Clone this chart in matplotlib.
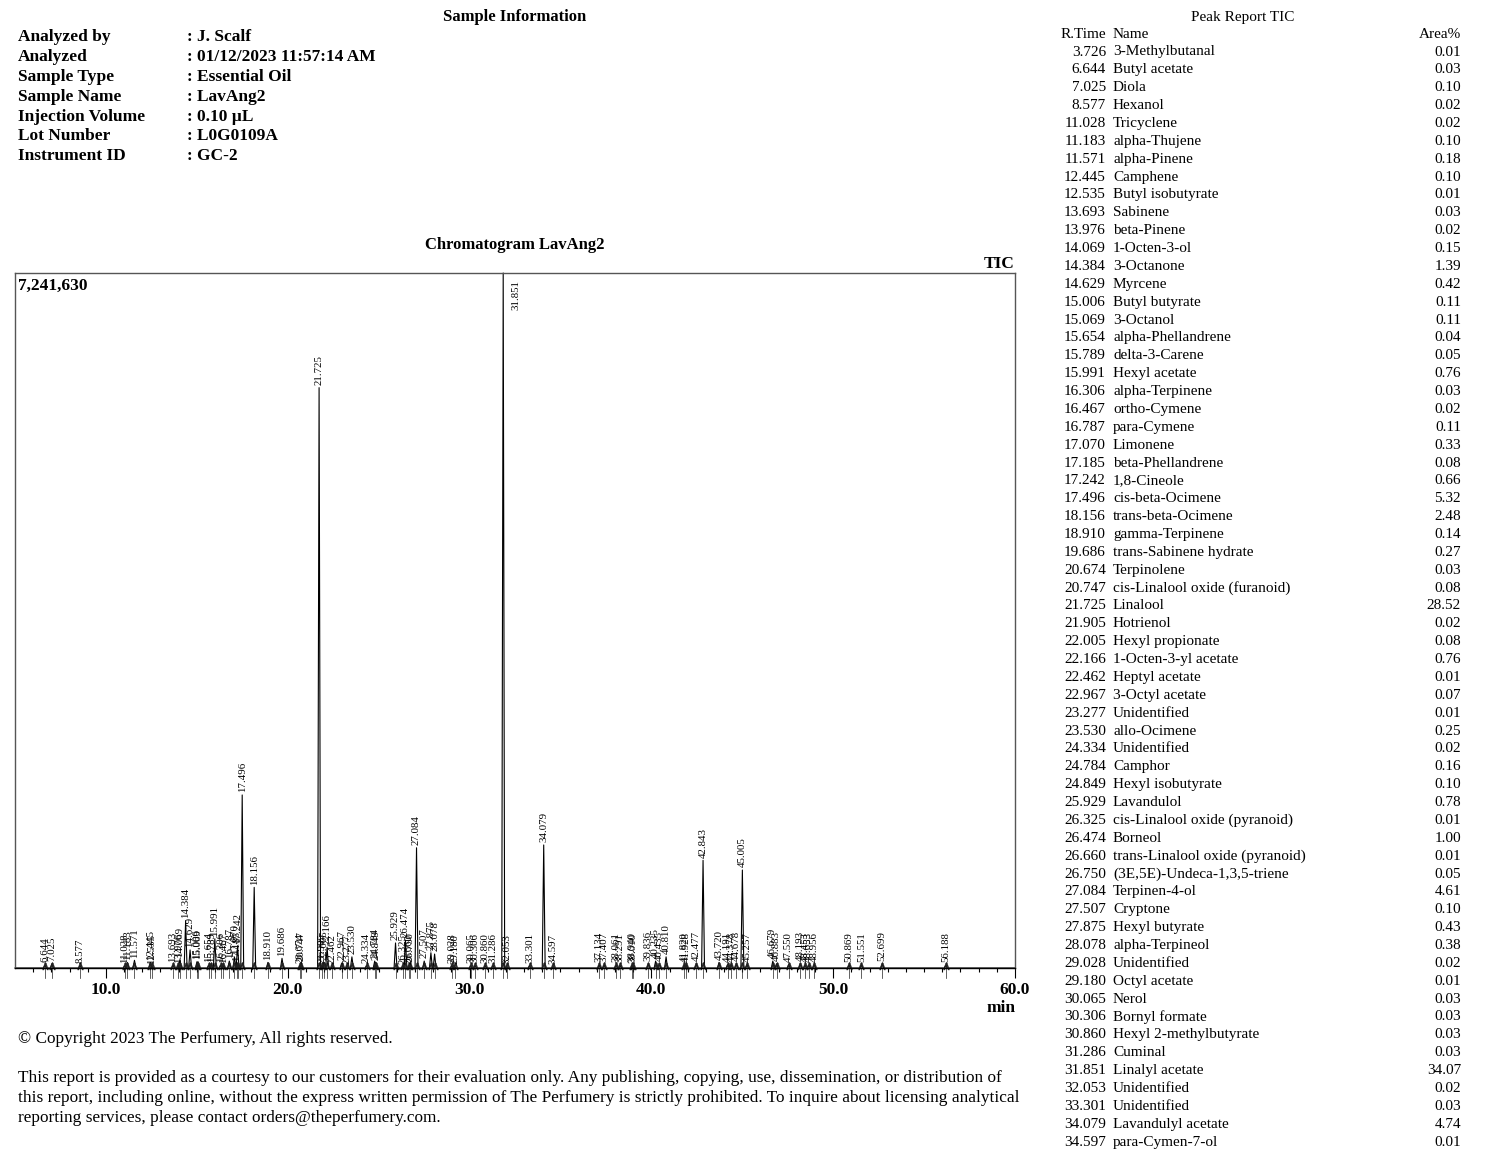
import numpy as np
import matplotlib
matplotlib.use("Agg")
import matplotlib.pyplot as plt
import matplotlib.transforms as mtransforms

plt.rcParams['font.family'] = ['Liberation Serif', 'DejaVu Serif']

# ---- data -------------------------------------------------------------
y_max = 7241630

# retention times (min) of the labelled peaks in the chromatogram
peak_rt = [6.644, 7.025, 8.577, 11.028, 11.183, 11.571, 12.445, 12.535,
           13.693, 13.976, 14.069, 14.384, 14.629, 15.006, 15.069, 15.654,
           15.789, 15.991, 16.306, 16.467, 16.787, 17.070, 17.185, 17.242,
           17.496, 18.156, 18.910, 19.686, 20.674, 20.747, 21.725, 21.905,
           22.005, 22.166, 22.462, 22.967, 23.277, 23.530, 24.334, 24.784,
           24.849, 25.929, 26.325, 26.474, 26.660, 26.750, 27.084, 27.507,
           27.875, 28.078, 29.028, 29.180, 30.065, 30.306, 30.860, 31.286,
           31.851, 32.053, 33.301, 34.079, 34.597, 37.134, 37.407, 38.061,
           38.291, 38.940, 39.010, 39.836, 40.235, 40.435, 40.810, 41.820,
           41.928, 42.477, 42.843, 43.720, 44.191, 44.378, 44.678, 45.005,
           45.257, 46.679, 46.883, 47.550, 48.193, 48.453, 48.653, 48.956,
           50.869, 51.551, 52.699, 56.188]

# peak heights (counts)
peak_height = [29000, 43000, 22000, 22000, 58000, 80000, 58000, 14000,
               29000, 22000, 87000, 492000, 188000, 65000, 65000, 29000,
               36000, 304000, 29000, 22000, 72000, 116000, 43000, 232000,
               1803000, 840000, 58000, 101000, 22000, 43000, 6047000, 22000,
               58000, 217000, 14000, 51000, 14000, 116000, 22000, 72000,
               58000, 261000, 14000, 290000, 14000, 36000, 1253000, 72000,
               159000, 145000, 22000, 14000, 22000, 22000, 22000, 22000,
               7241630, 14000, 22000, 1282000, 14000, 29000, 29000, 29000,
               22000, 29000, 22000, 43000, 72000, 43000, 116000, 29000,
               29000, 43000, 1122000, 58000, 36000, 36000, 43000, 1021000,
               36000, 72000, 43000, 36000, 43000, 29000, 29000, 36000,
               29000, 29000, 43000, 29000]

x_ticks = [10.0, 20.0, 30.0, 40.0, 50.0, 60.0]

# peak report table
tbl_rt = ["3.726", "6.644", "7.025", "8.577", "11.028", "11.183", "11.571",
          "12.445", "12.535", "13.693", "13.976", "14.069", "14.384", "14.629",
          "15.006", "15.069", "15.654", "15.789", "15.991", "16.306", "16.467",
          "16.787", "17.070", "17.185", "17.242", "17.496", "18.156", "18.910",
          "19.686", "20.674", "20.747", "21.725", "21.905", "22.005", "22.166",
          "22.462", "22.967", "23.277", "23.530", "24.334", "24.784", "24.849",
          "25.929", "26.325", "26.474", "26.660", "26.750", "27.084", "27.507",
          "27.875", "28.078", "29.028", "29.180", "30.065", "30.306", "30.860",
          "31.286", "31.851", "32.053", "33.301", "34.079", "34.597"]
tbl_name = ["3-Methylbutanal", "Butyl acetate", "Diola", "Hexanol",
            "Tricyclene", "alpha-Thujene", "alpha-Pinene", "Camphene",
            "Butyl isobutyrate", "Sabinene", "beta-Pinene", "1-Octen-3-ol",
            "3-Octanone", "Myrcene", "Butyl butyrate", "3-Octanol",
            "alpha-Phellandrene", "delta-3-Carene", "Hexyl acetate",
            "alpha-Terpinene", "ortho-Cymene", "para-Cymene", "Limonene",
            "beta-Phellandrene", "1,8-Cineole", "cis-beta-Ocimene",
            "trans-beta-Ocimene", "gamma-Terpinene", "trans-Sabinene hydrate",
            "Terpinolene", "cis-Linalool oxide (furanoid)", "Linalool",
            "Hotrienol", "Hexyl propionate", "1-Octen-3-yl acetate",
            "Heptyl acetate", "3-Octyl acetate", "Unidentified", "allo-Ocimene",
            "Unidentified", "Camphor", "Hexyl isobutyrate", "Lavandulol",
            "cis-Linalool oxide (pyranoid)", "Borneol",
            "trans-Linalool oxide (pyranoid)", "(3E,5E)-Undeca-1,3,5-triene",
            "Terpinen-4-ol", "Cryptone", "Hexyl butyrate", "alpha-Terpineol",
            "Unidentified", "Octyl acetate", "Nerol", "Bornyl formate",
            "Hexyl 2-methylbutyrate", "Cuminal", "Linalyl acetate",
            "Unidentified", "Unidentified", "Lavandulyl acetate",
            "para-Cymen-7-ol"]
tbl_area = ["0.01", "0.03", "0.10", "0.02", "0.02", "0.10", "0.18", "0.10",
            "0.01", "0.03", "0.02", "0.15", "1.39", "0.42", "0.11", "0.11",
            "0.04", "0.05", "0.76", "0.03", "0.02", "0.11", "0.33", "0.08",
            "0.66", "5.32", "2.48", "0.14", "0.27", "0.03", "0.08", "28.52",
            "0.02", "0.08", "0.76", "0.01", "0.07", "0.01", "0.25", "0.02",
            "0.16", "0.10", "0.78", "0.01", "1.00", "0.01", "0.05", "4.61",
            "0.10", "0.43", "0.38", "0.02", "0.01", "0.03", "0.03", "0.03",
            "0.03", "34.07", "0.02", "0.03", "4.74", "0.01"]

info_keys = ["Analyzed by", "Analyzed", "Sample Type", "Sample Name",
             "Injection Volume", "Lot Number", "Instrument ID"]
info_vals = [": J. Scalf", ": 01/12/2023 11:57:14 AM", ": Essential Oil",
             ": LavAng2", ": 0.10 \u00b5L", ": L0G0109A", ": GC-2"]

W, H = 1500, 1163
fig = plt.figure(figsize=(W / 100, H / 100), dpi=100)


def fx(px):
    return px / W


def fy(py):
    return 1 - py / H


# ---- header block -----------------------------------------------------
fig.text(fx(515), fy(17), "Sample Information", ha="center", va="center",
         fontsize=12, fontweight="bold")
for i, (k, v) in enumerate(zip(info_keys, info_vals)):
    yy = fy(37 + i * 19.9)
    fig.text(fx(18), yy, k, ha="left", va="center", fontsize=12.5,
             fontweight="bold")
    fig.text(fx(187), yy, v, ha="left", va="center", fontsize=12.5,
             fontweight="bold")

fig.text(fx(515), fy(245), "Chromatogram LavAng2", ha="center", va="center",
         fontsize=12, fontweight="bold")
fig.text(fx(1015), fy(264), "TIC", ha="right", va="center",
         fontsize=12.5, fontweight="bold")

# ---- chromatogram -----------------------------------------------------
ax = fig.add_axes([fx(15), fy(968), fx(1000), (968 - 273) / H])
ax.set_xlim(5, 60)
ax.set_ylim(0, y_max)

half_w = 0.08
xs, ys = [5.0], [0.0]
for rt, h in sorted(zip(peak_rt, peak_height)):
    xs += [rt - half_w, rt, rt + half_w]
    ys += [0.0, h, 0.0]
xs.append(60.0)
ys.append(0.0)
ax.plot(xs, ys, color="black", lw=0.8, clip_on=False)

# integration markers under each peak
trans = mtransforms.blended_transform_factory(ax.transData, ax.transAxes)
for rt in peak_rt:
    ax.plot([rt, rt], [-0.015, 0.008], color="#222222", lw=0.5,
            transform=trans, clip_on=False)
    ax.plot([rt], [0.003], marker=r"$\wedge$", ms=5, color="#222222",
            mew=0.3, transform=trans, clip_on=False)

# retention time labels
for rt, h in zip(peak_rt, peak_height):
    if h >= 0.95 * y_max:
        ax.annotate(f"{rt:.3f}", xy=(rt, y_max), xytext=(9, -5),
                    textcoords="offset points", rotation=90, ha="center",
                    va="top", fontsize=7.8)
    else:
        ax.annotate(f"{rt:.3f}", xy=(rt, h), xytext=(0, 2),
                    textcoords="offset points", rotation=90, ha="center",
                    va="bottom", fontsize=7.8)

ax.set_yticks([])
ax.set_xticks(x_ticks)
ax.set_xticklabels([f"{t:.1f}" for t in x_ticks], fontsize=12.5,
                   fontweight="bold")
ax.set_xticks(np.arange(6, 60, 1.0), minor=True)
ax.tick_params(axis="x", which="major", direction="out", length=7,
               width=0.8, pad=3)
ax.tick_params(axis="x", which="minor", direction="out", length=3,
               width=0.8)
for sp in ax.spines.values():
    sp.set_color("#555555")
    sp.set_linewidth(1.0)
ax.spines["bottom"].set_color("black")

ax.text(0.003, 0.982, f"{y_max:,}", transform=ax.transAxes, ha="left",
        va="center", fontsize=12.5, fontweight="bold")
fig.text(fx(1001), fy(1008), "min", ha="center", va="center",
         fontsize=12.5, fontweight="bold")

# ---- footer -----------------------------------------------------------
fig.text(fx(18), fy(1039), "\u00a9 Copyright 2023 The Perfumery, All rights reserved.",
         ha="left", va="center", fontsize=12.4)
footer = ["This report is provided as a courtesy to our customers for their evaluation only. Any publishing, copying, use, dissemination, or distribution of",
          "this report, including online, without the express written permission of The Perfumery is strictly prohibited. To inquire about licensing analytical",
          "reporting services, please contact orders@theperfumery.com."]
for i, line in enumerate(footer):
    fig.text(fx(18), fy(1078 + i * 20), line, ha="left", va="center",
             fontsize=12.4)

# ---- peak report table ------------------------------------------------
fig.text(fx(1243), fy(17), "Peak Report TIC", ha="center", va="center",
         fontsize=11)
fig.text(fx(1106), fy(34), "R.Time", ha="right", va="center", fontsize=11)
fig.text(fx(1113), fy(34), "Name", ha="left", va="center", fontsize=11)
fig.text(fx(1461), fy(34), "Area%", ha="right", va="center", fontsize=11)
for i, (r, n, a) in enumerate(zip(tbl_rt, tbl_name, tbl_area)):
    yy = fy(52 + i * 17.87)
    fig.text(fx(1106), yy, r, ha="right", va="center", fontsize=11)
    fig.text(fx(1113), yy, n, ha="left", va="center", fontsize=11)
    fig.text(fx(1461), yy, a, ha="right", va="center", fontsize=11)

fig.savefig("out.png", dpi=100)
